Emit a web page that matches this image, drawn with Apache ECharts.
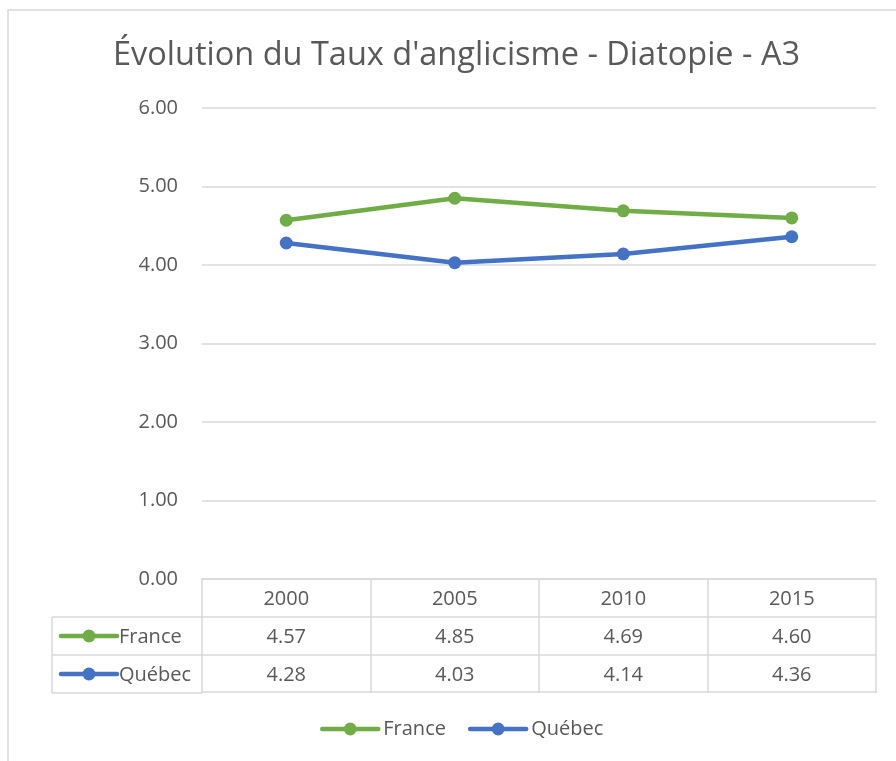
<!DOCTYPE html>
<html>
<head>
<meta charset="utf-8">
<script src="https://cdn.jsdelivr.net/npm/echarts@6/dist/echarts.min.js"></script>
<style>
  html, body { margin: 0; padding: 0; background: #fff; }
  #chart { width: 896px; height: 761px; }
</style>
</head>
<body>
<div id="chart"></div>
<script>
const years = ['2000', '2005', '2010', '2015'];
const france = [4.57, 4.85, 4.69, 4.60];
const quebec = [4.28, 4.03, 4.14, 4.36];
const seriesNames = ['France', 'Québec'];
const seriesColors = ['#70ad47', '#4472c4'];

const font = 'Open Sans';
const txt = '#595959';
const lineCol = '#d9d9d9';
const fs = 20;

// layout of plot + table
const gridLeft = 202, gridRight = 876, gridTop = 108, gridBottom = 579;
const rowH = 38;
const tableLeft = 52;

function tableAxis(data, offset, showLabel) {
  return {
    type: 'category',
    data: data,
    position: 'bottom',
    offset: offset,
    boundaryGap: true,
    axisLine: { show: true, lineStyle: { color: lineCol, width: 1.5 } },
    axisTick: { show: showLabel, length: rowH, lineStyle: { color: lineCol, width: 1.5 } },
    axisLabel: { show: showLabel, margin: 10, fontSize: fs, color: txt, fontFamily: font }
  };
}

// left column of the table: series keys
const keyGraphics = [];
[france, quebec].forEach(function (d, i) {
  const top = gridBottom + rowH * (i + 1);
  const cy = top + rowH / 2;
  keyGraphics.push({
    type: 'line',
    shape: { x1: 61, y1: cy, x2: 117, y2: cy },
    style: { stroke: seriesColors[i], lineWidth: 4.5, lineCap: 'round' }
  });
  keyGraphics.push({
    type: 'circle',
    shape: { cx: 89, cy: cy, r: 6.5 },
    style: { fill: seriesColors[i] }
  });
  keyGraphics.push({
    type: 'text',
    x: 119, y: cy + 1,
    style: { text: seriesNames[i], fill: txt, font: fs + 'px "' + font + '"', verticalAlign: 'middle' }
  });
  // row bottom line
  keyGraphics.push({
    type: 'line',
    shape: { x1: tableLeft, y1: top + rowH, x2: gridLeft, y2: top + rowH },
    style: { stroke: lineCol, lineWidth: 1.5 }
  });
});
keyGraphics.push({
  type: 'line',
  shape: { x1: tableLeft, y1: gridBottom + rowH, x2: gridLeft, y2: gridBottom + rowH },
  style: { stroke: lineCol, lineWidth: 1.5 }
});
keyGraphics.push({
  type: 'line',
  shape: { x1: tableLeft, y1: gridBottom + rowH, x2: tableLeft, y2: gridBottom + rowH * 3 },
  style: { stroke: lineCol, lineWidth: 1.5 }
});
// outer chart border
keyGraphics.push({
  type: 'rect',
  shape: { x: 8, y: 10, width: 1000, height: 1000 },
  style: { fill: 'none', stroke: lineCol, lineWidth: 1.5 }
});

const option = {
  animation: false,
  backgroundColor: '#fff',
  title: {
    text: "Évolution du Taux d'anglicisme - Diatopie - A3",
    left: 108,
    top: 34,
    textStyle: { fontSize: 32.5, fontWeight: 'normal', color: txt, fontFamily: font }
  },
  legend: {
    bottom: 17,
    left: 315,
    itemWidth: 56,
    itemHeight: 16,
    itemGap: 22,
    textStyle: { fontSize: fs, color: txt, fontFamily: font },
    lineStyle: { width: 4.5, cap: 'round' },
    data: seriesNames
  },
  grid: {
    left: gridLeft,
    right: 896 - gridRight,
    top: gridTop,
    bottom: 761 - gridBottom,
    containLabel: false
  },
  xAxis: [
    tableAxis(years, 0, true),
    tableAxis(france.map(v => v.toFixed(2)), rowH, true),
    tableAxis(quebec.map(v => v.toFixed(2)), rowH * 2, true),
    tableAxis(years, rowH * 3 - 1, false)
  ],
  yAxis: {
    type: 'value',
    min: 0,
    max: 6,
    interval: 1,
    axisLine: { show: false },
    axisTick: { show: false },
    axisLabel: {
      margin: 24,
      fontSize: fs,
      color: txt,
      fontFamily: font,
      formatter: v => v.toFixed(2)
    },
    splitLine: { lineStyle: { color: lineCol, width: 1.5 } }
  },
  graphic: keyGraphics,
  series: [france, quebec].map(function (d, i) {
    return {
      name: seriesNames[i],
      type: 'line',
      xAxisIndex: 0,
      data: d,
      symbol: 'circle',
      symbolSize: 13,
      color: seriesColors[i],
      lineStyle: { width: 4.5, color: seriesColors[i] },
      itemStyle: { color: seriesColors[i] }
    };
  })
};

const chart = echarts.init(document.getElementById('chart'));
chart.setOption(option);
</script>
</body>
</html>
